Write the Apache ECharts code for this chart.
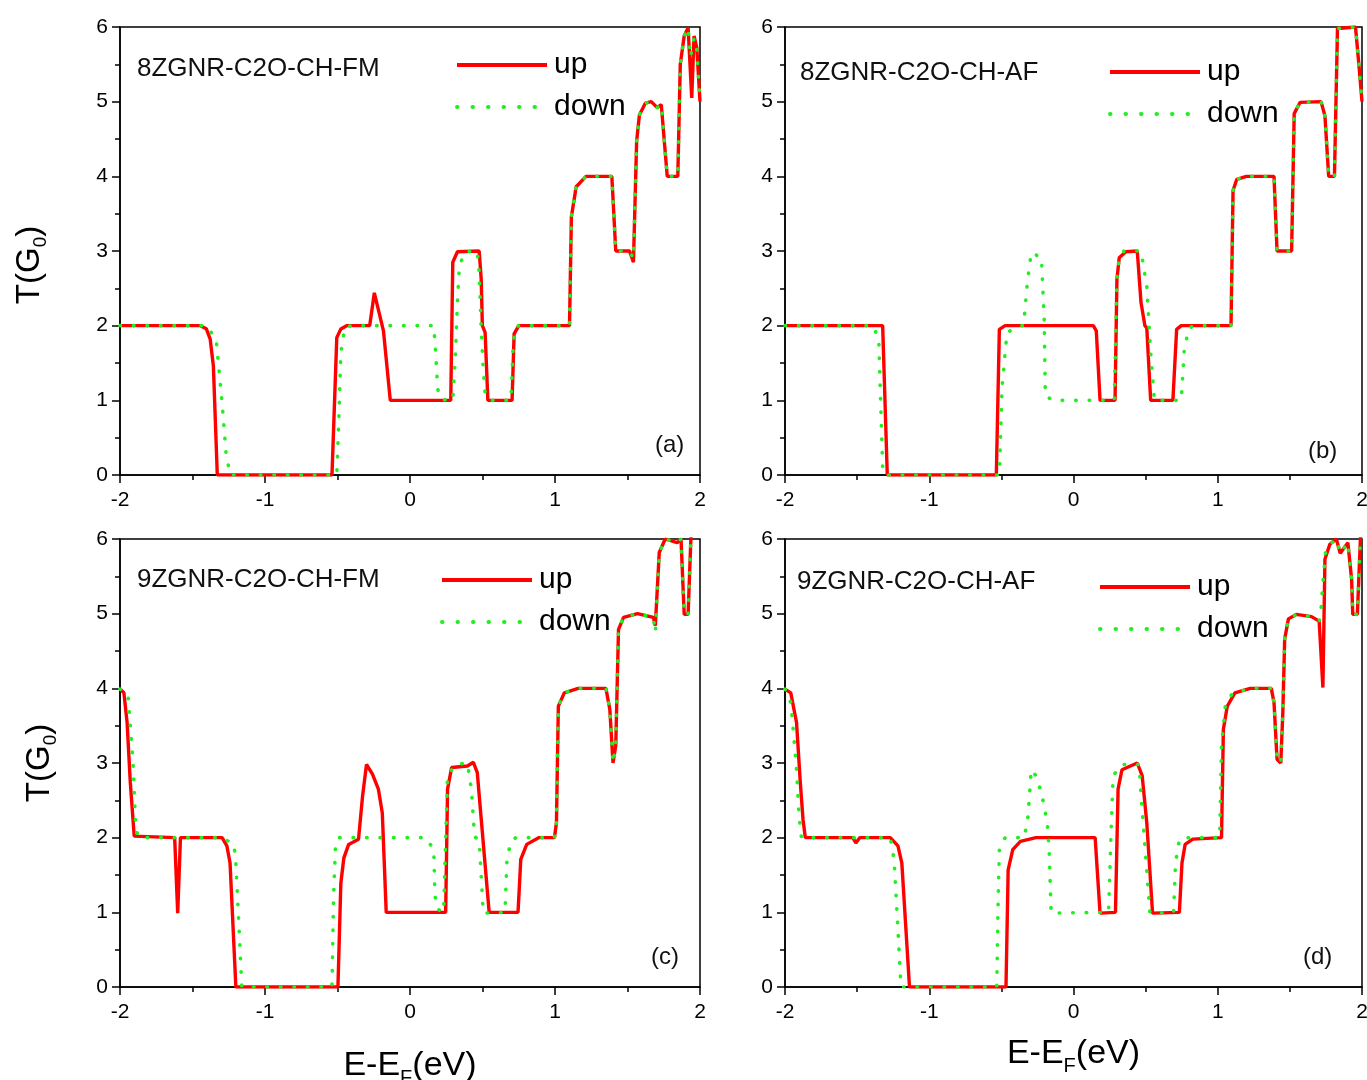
<!DOCTYPE html>
<html>
<head>
<meta charset="utf-8">
<title>ZGNR transmission</title>
<script src="https://cdn.jsdelivr.net/npm/echarts@6/dist/echarts.min.js"></script>
<style>
  html, body { margin: 0; padding: 0; background: #fff; }
  #main { width: 1367px; height: 1080px; }
</style>
</head>
<body>
<div id="main"></div>
<script>
// [E - EF (eV), T (G0)]
var upA = [[-2,2],[-1.446,2],[-1.405,1.96],[-1.378,1.82],[-1.356,1.46],[-1.329,0],[-0.538,0],[-0.505,1.84],[-0.477,1.955],[-0.437,2],[-0.278,2],[-0.246,2.44],[-0.183,1.93],[-0.136,1],[0.281,1],[0.295,2.85],[0.327,2.99],[0.477,3],[0.491,2.63],[0.499,2.0],[0.518,1.91],[0.537,1],[0.704,1],[0.718,1.89],[0.75,2],[1.1,2],[1.113,3.46],[1.146,3.86],[1.214,4],[1.392,4],[1.419,3],[1.514,3],[1.541,2.85],[1.563,4.47],[1.582,4.82],[1.623,4.98],[1.664,5],[1.705,4.92],[1.733,4.96],[1.774,4],[1.847,4],[1.864,5.5],[1.891,5.88],[1.918,5.99],[1.943,5.05],[1.959,5.88],[1.978,5.72],[2,5]];
var downA = [[-2,2],[-1.405,2],[-1.337,1.82],[-1.296,0.97],[-1.269,0.3],[-1.241,0],[-0.505,0],[-0.491,0.74],[-0.477,1.64],[-0.45,1.98],[-0.4,2],[0.164,2],[0.177,1.64],[0.191,1.15],[0.218,1.01],[0.295,1],[0.314,1.64],[0.327,2.31],[0.341,2.81],[0.382,2.99],[0.464,3],[0.477,2.72],[0.491,1.96],[0.505,1.42],[0.518,1.1],[0.546,1],[0.696,1],[0.709,1.64],[0.723,1.96],[0.75,2],[1.1,2],[1.113,3.46],[1.146,3.86],[1.214,4],[1.392,4],[1.419,3],[1.514,3],[1.541,2.9],[1.563,4.47],[1.582,4.82],[1.623,4.98],[1.664,5],[1.705,4.92],[1.733,4.96],[1.774,4],[1.847,4],[1.864,5.5],[1.891,5.88],[1.918,5.99],[1.935,5.6],[1.959,5.85],[1.978,5.7],[2,5]];

var upB = [[-2,2],[-1.323,2],[-1.291,0],[-0.535,0],[-0.514,1.95],[-0.474,2],[0.137,2],[0.158,1.93],[0.184,1],[0.288,1],[0.301,2.62],[0.317,2.91],[0.362,2.99],[0.442,3],[0.468,2.31],[0.495,2],[0.508,1.97],[0.535,1],[0.689,1],[0.715,1.95],[0.747,2],[1.092,2],[1.106,3.81],[1.132,3.96],[1.198,4],[1.39,4],[1.411,3],[1.512,3],[1.53,4.84],[1.57,4.99],[1.716,5],[1.743,4.81],[1.769,4],[1.809,4],[1.83,5.98],[1.955,6],[1.981,5.44],[2,5]];
var downB = [[-2,2],[-1.39,2],[-1.35,1.82],[-1.323,0.1],[-1.31,0],[-0.514,0],[-0.495,1.19],[-0.461,1.91],[-0.368,2],[-0.346,2],[-0.32,2.58],[-0.293,2.98],[-0.222,2.91],[-0.203,2.08],[-0.195,1.06],[-0.142,1],[0.283,1],[0.301,2.62],[0.317,2.91],[0.35,3],[0.468,3],[0.508,2.53],[0.535,1.64],[0.561,1],[0.747,1],[0.768,1.68],[0.8,1.97],[0.84,2],[1.092,2],[1.106,3.81],[1.132,3.96],[1.198,4],[1.39,4],[1.411,3],[1.512,3],[1.53,4.84],[1.57,4.99],[1.716,5],[1.743,4.81],[1.769,4],[1.809,4],[1.83,5.98],[1.955,6],[1.981,5.44],[2,5]];

var upC = [[-2,3.99],[-1.973,3.94],[-1.951,3.54],[-1.929,2.74],[-1.902,2.02],[-1.623,2],[-1.602,0.99],[-1.583,2],[-1.296,2],[-1.263,1.89],[-1.241,1.66],[-1.201,0],[-0.497,0],[-0.477,1.39],[-0.456,1.73],[-0.423,1.91],[-0.355,1.98],[-0.327,2.56],[-0.3,2.98],[-0.259,2.85],[-0.218,2.65],[-0.191,2.33],[-0.164,1],[0.246,1],[0.259,2.65],[0.287,2.94],[0.396,2.96],[0.437,3.01],[0.464,2.87],[0.546,1],[0.745,1],[0.764,1.71],[0.805,1.91],[0.887,2],[0.996,2],[1.01,2.2],[1.023,3.76],[1.064,3.94],[1.16,4],[1.351,4],[1.378,3.72],[1.4,3],[1.419,3.23],[1.438,4.79],[1.473,4.95],[1.569,5],[1.678,4.95],[1.692,4.84],[1.719,5.82],[1.76,6],[1.842,5.95],[1.869,6],[1.891,4.99],[1.918,4.99],[1.937,6],[1.96,6.5]];
var downC = [[-2,3.99],[-1.945,3.92],[-1.91,3.0],[-1.891,2.11],[-1.869,2],[-1.296,2],[-1.214,1.91],[-1.201,1.66],[-1.173,0.55],[-1.16,0],[-0.538,0],[-0.527,1.22],[-0.513,1.93],[-0.49,2],[0.109,2],[0.164,1.84],[0.172,1.22],[0.191,1.04],[0.232,1],[0.259,2.83],[0.314,2.98],[0.396,3],[0.423,2.65],[0.445,2.02],[0.478,1.95],[0.505,0.99],[0.655,1],[0.669,1.71],[0.696,1.95],[0.73,2],[0.996,2],[1.01,2.2],[1.023,3.76],[1.064,3.94],[1.16,4],[1.351,4],[1.378,3.72],[1.4,3],[1.419,3.23],[1.438,4.79],[1.473,4.95],[1.569,5],[1.678,4.95],[1.692,4.75],[1.719,5.82],[1.76,6],[1.842,5.95],[1.869,6],[1.891,4.99],[1.918,4.99],[1.937,6],[1.96,6.5]];

var upD = [[-2,3.99],[-1.96,3.94],[-1.92,3.54],[-1.894,2.74],[-1.875,2.24],[-1.859,2],[-1.53,2],[-1.509,1.93],[-1.482,2],[-1.27,2],[-1.217,1.89],[-1.19,1.66],[-1.137,0],[-0.468,0],[-0.453,1.57],[-0.421,1.84],[-0.368,1.95],[-0.261,2],[0.15,2],[0.184,0.99],[0.291,1],[0.309,2.65],[0.336,2.91],[0.442,3],[0.476,2.83],[0.508,2.2],[0.548,0.99],[0.734,1],[0.752,1.66],[0.774,1.91],[0.827,1.98],[1.026,2],[1.039,3.45],[1.066,3.76],[1.119,3.94],[1.225,4],[1.371,4],[1.39,3.81],[1.411,3.05],[1.437,3],[1.451,3.67],[1.464,4.66],[1.49,4.93],[1.544,4.99],[1.65,4.96],[1.703,4.9],[1.729,4.01],[1.743,5.73],[1.777,5.93],[1.822,6],[1.849,5.81],[1.902,5.95],[1.928,5.46],[1.936,4.99],[1.968,4.99],[1.989,6],[2,6.3]];
var downD = [[-2,3.99],[-1.96,3.81],[-1.939,3.36],[-1.92,2.91],[-1.902,2.29],[-1.886,2],[-1.27,2],[-1.244,1.71],[-1.217,0.77],[-1.196,0],[-0.532,0],[-0.522,1.22],[-0.514,1.84],[-0.474,2],[-0.341,2],[-0.315,2.29],[-0.293,2.91],[-0.261,2.83],[-0.222,2.6],[-0.182,2.2],[-0.169,1.84],[-0.155,0.99],[0.243,1],[0.261,2.11],[0.275,2.83],[0.336,2.98],[0.455,2.98],[0.468,2.56],[0.495,1.89],[0.53,0.99],[0.694,1],[0.707,1.66],[0.734,1.98],[0.8,2],[1.013,2],[1.026,3.23],[1.052,3.76],[1.1,3.93],[1.225,4],[1.371,4],[1.39,3.81],[1.411,3.05],[1.437,3],[1.451,3.67],[1.464,4.66],[1.49,4.93],[1.544,4.99],[1.65,4.96],[1.703,4.9],[1.716,5.06],[1.729,5.42],[1.75,5.87],[1.777,5.93],[1.822,6],[1.849,5.81],[1.902,5.95],[1.928,5.46],[1.936,4.99],[1.968,4.99],[1.989,6],[2,6.3]];

var panelNames = ['8ZGNR-C2O-CH-FM', '8ZGNR-C2O-CH-AF', '9ZGNR-C2O-CH-FM', '9ZGNR-C2O-CH-AF'];
var panelTags = ['(a)', '(b)', '(c)', '(d)'];
var upSets = [upA, upB, upC, upD];
var downSets = [downA, downB, downC, downD];

var FONT = 'Liberation Sans, Arial, sans-serif';
var RED = '#ff0000';
var GREEN = '#22ee22';

// panel boxes in px: left, top, width, height
var boxes = [
  [120, 27, 580, 448],
  [785, 27, 577, 448],
  [120, 539, 580, 448],
  [785, 539, 577, 448]
];
var legendPos = [[455, 50], [1108, 57], [440, 565], [1098, 572]];
var namePos = [[137, 56], [800, 60], [137, 567], [797, 569]];
var tagPos = [[655, 433], [1308, 439], [651, 945], [1303, 945]];

var chart = echarts.init(document.getElementById('main'), null, { renderer: 'canvas' });

var grids = [], xAxes = [], yAxes = [], series = [], legends = [], titles = [];

function axisBase(i, lo, hi, margin) {
  return {
    gridIndex: i, type: 'value', min: lo, max: hi, interval: 1,
    axisLine: { onZero: false, lineStyle: { color: '#000', width: 1.5 } },
    axisTick: { length: 8, lineStyle: { color: '#000', width: 1.5 } },
    minorTick: { show: true, splitNumber: 2, length: 5, lineStyle: { color: '#000', width: 1.5 } },
    splitLine: { show: false },
    axisLabel: { color: '#000', fontSize: 21, fontFamily: FONT, margin: margin }
  };
}

boxes.forEach(function (b, i) {
  grids.push({
    left: b[0], top: b[1], width: b[2], height: b[3],
    outerBoundsMode: 'none',
    show: true, borderColor: '#000', borderWidth: 1.5, backgroundColor: 'transparent'
  });

  var xa = axisBase(i, -2, 2, 15);
  if (i >= 2) {
    xa.name = '{a|E-E}{b|F}{a|(eV)}';
    xa.nameLocation = 'middle';
    xa.nameGap = i === 2 ? 57 : 45;
    xa.nameTextStyle = {
      rich: {
        a: { fontSize: 34, fontFamily: FONT, color: '#000' },
        b: { fontSize: 20, fontFamily: FONT, color: '#000', padding: [24, 0, 0, 0] }
      }
    };
  }
  xAxes.push(xa);

  var ya = axisBase(i, 0, 6, 12);
  if (i % 2 === 0) {
    ya.name = '{a|T(G}{b|0}{a|)}';
    ya.nameLocation = 'middle';
    ya.nameGap = i === 0 ? 70 : 60;
    ya.nameTextStyle = {
      padding: i === 0 ? [0, 28, 0, 0] : 0,
      rich: {
        a: { fontSize: 33, fontFamily: FONT, color: '#000' },
        b: { fontSize: 19, fontFamily: FONT, color: '#000', padding: [22, 0, 0, 0] }
      }
    };
  }
  yAxes.push(ya);

  series.push({
    name: 'up', type: 'line', xAxisIndex: i, yAxisIndex: i,
    data: upSets[i], showSymbol: false, symbol: 'none', smooth: false,
    lineStyle: { color: RED, width: 3.4 },
    itemStyle: { color: RED }
  });
  series.push({
    name: 'down', type: 'line', xAxisIndex: i, yAxisIndex: i,
    data: downSets[i], showSymbol: false, symbol: 'none', smooth: false,
    lineStyle: { color: GREEN, width: 3.6, type: [0.5, 13], cap: 'round' },
    itemStyle: { color: GREEN }
  });

  legends.push({
    left: legendPos[i][0], top: legendPos[i][1], orient: 'vertical', padding: 0,
    itemWidth: 90, itemHeight: 14, itemGap: 12,
    selectedMode: false,
    itemStyle: { color: 'rgba(0,0,0,0)', borderWidth: 0, opacity: 0 },
    textStyle: { fontSize: 30, fontFamily: FONT, color: '#000', padding: [0, 0, 0, 2] },
    data: [
      { name: 'up', lineStyle: { color: RED, width: 4, type: 'solid' } },
      { name: 'down', lineStyle: { color: GREEN, width: 4, type: [0.5, 15], cap: 'round' } }
    ]
  });

  titles.push({
    text: panelNames[i], left: namePos[i][0], top: namePos[i][1], padding: 0,
    textStyle: { fontSize: 26, fontWeight: 'normal', fontFamily: FONT, color: '#111' }
  });
  titles.push({
    text: panelTags[i], left: tagPos[i][0], top: tagPos[i][1], padding: 0,
    textStyle: { fontSize: 24, fontWeight: 'normal', fontFamily: FONT, color: '#111' }
  });
});

chart.setOption({
  backgroundColor: '#fff',
  animation: false,
  title: titles,
  legend: legends,
  grid: grids,
  xAxis: xAxes,
  yAxis: yAxes,
  series: series
});
</script>
</body>
</html>
